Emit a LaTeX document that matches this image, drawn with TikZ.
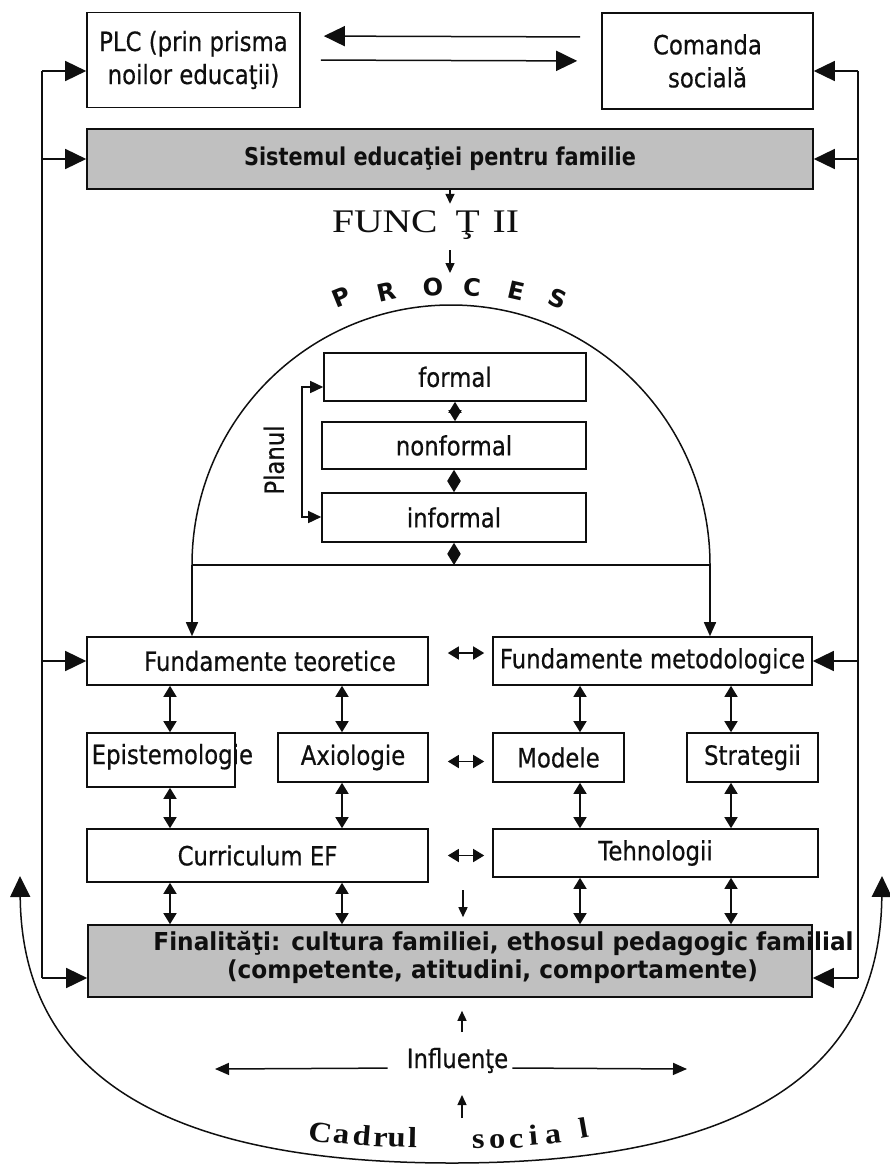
\documentclass[tikz,border=0pt]{standalone}
\usepackage{fontspec}
\setmainfont[FakeStretch=0.86,FakeBold=0.5]{DejaVu Sans}
\newfontfamily\headfont[FakeStretch=0.85]{DejaVu Sans}
\newfontfamily\finfont[FakeStretch=0.94]{DejaVu Sans}
\newfontfamily\funcfont[FakeStretch=1.2]{Liberation Serif}
\newfontfamily\socfont[FakeStretch=1.12]{Liberation Serif}
\newfontfamily\procfont{DejaVu Sans}
\usetikzlibrary{arrows.meta}
\definecolor{boxgray}{RGB}{192,192,192}
\definecolor{ink}{RGB}{15,15,15}
\newcommand\txtsize{\fontsize{26.5}{33}\selectfont}

\begin{document}
\begin{tikzpicture}[x=1pt,y=-1pt,color=ink,line width=1.5pt,
	box/.style={draw,line width=1.6pt,inner sep=0pt,align=center,font=\txtsize},
	bigarr/.style={-{Triangle[length=21pt,width=20pt]}},
	bigboth/.style={{Triangle[length=21pt,width=20pt]}-{Triangle[length=21pt,width=20pt]}},
	medarr/.style={-{Triangle[length=14pt,width=12pt]}},
	medboth/.style={{Triangle[length=13pt,width=12pt]}-{Triangle[length=13pt,width=12pt]}},
	smallarr/.style={-{Triangle[length=10pt,width=9pt]}},
	dblarr/.style={{Triangle[length=11pt,width=13pt]}-{Triangle[length=11pt,width=13pt]}}]
	\useasboundingbox (0,0) rectangle (890,1164);

	\node[box] (plc) at (193.5,60) [minimum width=213pt,minimum height=95pt] {PLC (prin prisma\\noilor educaţii)};
	\node[box] (com) at (707.5,61) [minimum width=211pt,minimum height=96pt] {Comanda\\socială};
	\node[box,fill=boxgray,font=\headfont\bfseries\fontsize{24.5}{28}\selectfont] (sys) at (450,159) [minimum width=726pt,minimum height=60pt] {Sistemul educaţiei pentru familie\hspace*{20pt}};
	\node (func) at (425.5,232) [anchor=base,font=\funcfont\fontsize{33}{33}\selectfont] {FUNC\hspace{8pt} Ţ\hspace{3pt} II};
	\foreach \ch/\px/\py/\rot [count=\i] in {P/341/297/22,R/387/292/13,O/433/287/4,C/472/287/-4,E/516/291/-13,S/558/299/-22}
		\node (pr\i) at (\px,\py) [rotate=\rot,inner sep=0pt,font=\procfont\bfseries\fontsize{24}{24}\selectfont] {\ch};

	\coordinate (dl) at (192,565);
	\coordinate (dr) at (710,565);
	\draw (dl) arc[start angle=180,end angle=0,x radius=259pt,y radius=260pt];
	\draw (dl) -- (dr);
	\node[box] (formal) at (455,377) [minimum width=262pt,minimum height=48pt] {formal};
	\node[box] (nonformal) at (454,445.5) [minimum width=264pt,minimum height=47pt] {nonformal};
	\node[box] (informal) at (454,517.5) [minimum width=264pt,minimum height=49pt] {informal};
	\draw[dblarr] (formal.south) -- (formal.south |- nonformal.north);
	\draw[dblarr] (nonformal.south) -- (informal.north);
	\draw[dblarr] (informal.south) -- (informal.south |- dl);
	\coordinate (pl1) at (302,387);
	\coordinate (pl2) at (302,517);
	\draw[medboth] (formal.west |- pl1) -- (pl1) -- (pl2) -- (informal.west |- pl2);
	\node (planul) at (274,460) [rotate=90,font=\txtsize] {Planul};

	\node[box] (ft) at (257.5,661) [minimum width=341pt,minimum height=48pt] {\hspace*{25pt}Fundamente teoretice};
	\node[box] (fm) at (652.5,661) [minimum width=319pt,minimum height=48pt] {Fundamente metodologice};
	\node[box] (epi) at (161,760) [minimum width=148pt,minimum height=54pt] {};
	\node (epitext) at (91,764) [anchor=base west,inner sep=0pt,font=\txtsize] {Epistemologie};
	\node[box] (axi) at (353,757.5) [minimum width=150pt,minimum height=49pt] {Axiologie};
	\node[box] (mod) at (558.5,757.5) [minimum width=131pt,minimum height=49pt] {Modele};
	\node[box] (str) at (752.5,757.5) [minimum width=131pt,minimum height=49pt] {Strategii};
	\node[box] (cur) at (257.5,855.5) [minimum width=341pt,minimum height=53pt] {Curriculum EF};
	\node[box] (teh) at (655.5,853) [minimum width=325pt,minimum height=48pt] {Tehnologii};
	\node[box,fill=boxgray] (fin) at (450,961) [minimum width=724pt,minimum height=72pt] {};
	\node (fin1) at (503.5,950) [anchor=base,inner sep=0pt,font=\finfont\bfseries\fontsize{24.7}{28}\selectfont] {Finalităţi: cultura familiei, ethosul pedagogic familial};
	\node (fin2) at (492.5,978) [anchor=base,inner sep=0pt,font=\finfont\bfseries\fontsize{24.7}{28}\selectfont] {(competente, atitudini, comportamente)};

	\draw[medarr] (dl) -- (dl |- ft.north);
	\draw[medarr] (dr) -- (dr |- fm.north);

	\coordinate (xa) at (170,0);
	\coordinate (xb) at (342,0);
	\coordinate (xc) at (580,0);
	\coordinate (xd) at (731,0);
	\draw[dblarr] (ft.south -| xa) -- (epi.north -| xa);
	\draw[dblarr] (ft.south -| xb) -- (axi.north -| xb);
	\draw[dblarr] (epi.south -| xa) -- (cur.north -| xa);
	\draw[dblarr] (axi.south -| xb) -- (cur.north -| xb);
	\draw[dblarr] (cur.south -| xa) -- (fin.north -| xa);
	\draw[dblarr] (cur.south -| xb) -- (fin.north -| xb);
	\draw[dblarr] (fm.south -| xc) -- (mod.north -| xc);
	\draw[dblarr] (fm.south -| xd) -- (str.north -| xd);
	\draw[dblarr] (mod.south -| xc) -- (teh.north -| xc);
	\draw[dblarr] (str.south -| xd) -- (teh.north -| xd);
	\draw[dblarr] (teh.south -| xc) -- (fin.north -| xc);
	\draw[dblarr] (teh.south -| xd) -- (fin.north -| xd);

	\draw[dblarr,shorten <=19pt,shorten >=8pt] ([yshift=8pt]ft.east) -- ([yshift=8pt]fm.west);
	\draw[dblarr,shorten <=19pt,shorten >=8pt] ([yshift=-4pt]axi.east) -- ([yshift=-4pt]mod.west);
	\draw[dblarr,shorten <=19pt,shorten >=8pt] (cur.east) -- (cur.east -| teh.west);

	\draw[bigarr,shorten <=21pt,shorten >=23pt] ([yshift=24pt]com.west) -- ([yshift=24pt]plc.east);
	\draw[bigarr,shorten <=20pt,shorten >=24pt] (plc.east) -- (com.west);

	\coordinate (ltop) at (42,71);
	\coordinate (lbot) at (42,978);
	\coordinate (rtop) at (858,71);
	\coordinate (rbot) at (858,978);
	\draw (ltop) -- (lbot);
	\draw (rtop) -- (rbot);
	\draw[bigarr] (ltop) -- (ltop -| plc.west);
	\draw[bigarr] (ltop |- sys.west) -- (sys.west);
	\draw[bigarr] (ltop |- ft.west) -- (ft.west);
	\draw[bigarr] (lbot) -- (lbot -| fin.west);
	\draw[bigarr] (rtop) -- (rtop -| com.east);
	\draw[bigarr] (rtop |- sys.east) -- (sys.east);
	\draw[bigarr] (rtop |- fm.east) -- (fm.east);
	\draw[bigarr] (rbot) -- (rbot -| fin.east);

	\coordinate (pa) at (450,250);
	\coordinate (pb) at (450,273);
	\draw[smallarr] (sys.south) -- ++(0,14);
	\draw[smallarr] (pa) -- (pb);
	\coordinate (fa) at (463,890);
	\coordinate (fb) at (462,1032);
	\draw[smallarr,shorten >=7pt] (fa) -- (fa |- fin.north);
	\draw[smallarr,shorten >=13pt] (fb) -- (fb |- fin.south);

	\node (infl) at (457.5,1068) [anchor=base,font=\txtsize] {Influenţe};
	\coordinate (il) at (215,1069);
	\coordinate (ir) at (687,1069);
	\draw[medarr,shorten <=15pt] (infl.base west) -- (il);
	\draw[medarr] (infl.base east) -- (ir);
	\coordinate (ia) at (462,1118);
	\coordinate (ib) at (462,1095);
	\draw[smallarr] (ia) -- (ib);

	\foreach \ch/\px/\py/\rot [count=\i] in {C/319/1142/-8,a/340.5/1143/-6,d/361/1145/-5,r/380/1147/-3,u/396.5/1147/-2,l/412.5/1148/-1,s/478.5/1148/1,o/497.5/1148/2,c/516.5/1148/3,i/534/1145/5,a/554/1143/7,l/585/1138/10}
		\node (cs\i) at (\px,\py) [anchor=base,rotate=\rot,inner sep=0pt,font=\socfont\bfseries\fontsize{29}{29}\selectfont] {\ch};

	\coordinate (arcl) at (20,876);
	\coordinate (arcb) at (452,1163);
	\coordinate (arcr) at (882,876);
	\draw[bigboth] (arcl) .. controls (22,1090) and (190,1163) .. (arcb) .. controls (714,1163) and (880,1090) .. (arcr);
\end{tikzpicture}
\end{document}
